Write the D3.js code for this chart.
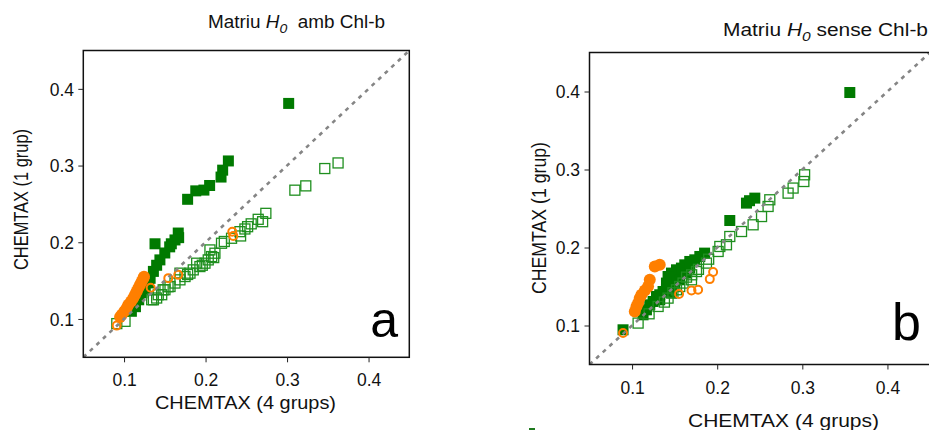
<!DOCTYPE html>
<html><head><meta charset="utf-8">
<script src="https://cdn.jsdelivr.net/npm/d3@7/dist/d3.min.js"></script>
<style>
html,body{margin:0;padding:0;background:#fff;}
svg{display:block;font-family:"Liberation Sans",Arial,sans-serif;}
</style></head>
<body>
<svg id="chart" width="929" height="430"></svg>
<script>
// ---------- data ----------
const tickValues = [0.1, 0.2, 0.3, 0.4];
const axisDomain = [0.05, 0.45];
const xTitle = "CHEMTAX (4 grups)";
const yTitle = "CHEMTAX (1 grup)";
const panelLetters = ["a", "b"];

// Panel a : "Matriu H0 amb Chl-b"
const aFilledSquares = [[0.302,0.381],[0.228,0.306],[0.221,0.294],[0.219,0.285],[0.205,0.274],[0.198,0.268],[0.188,0.267],[0.178,0.256],[0.1665,0.212],[0.167,0.206],[0.158,0.198],[0.138,0.198],[0.1625,0.203],[0.156,0.194],[0.150,0.186],[0.144,0.177],[0.140,0.170],[0.136,0.162],[0.132,0.153],[0.130,0.147],[0.126,0.140],[0.122,0.134],[0.118,0.125],[0.114,0.116],[0.109,0.110]];
const aOpenSquares = [[0.3626,0.3034],[0.3463,0.2961],[0.3230,0.2735],[0.3096,0.2679],[0.2740,0.2377],[0.2700,0.2268],[0.2646,0.2299],[0.2516,0.2203],[0.2483,0.2173],[0.2422,0.2138],[0.2430,0.2082],[0.2319,0.2052],[0.2196,0.1987],[0.2115,0.1857],[0.2075,0.1813],[0.2033,0.1770],[0.1993,0.1727],[0.1931,0.1683],[0.1849,0.1640],[0.1809,0.1597],[0.1748,0.1553],[0.1686,0.1510],[0.1625,0.1468],[0.1564,0.1423],[0.1502,0.1381],[0.1462,0.1316],[0.1400,0.1273],[0.1339,0.1251],[0.2054,0.1900],[0.1891,0.1727],[0.1686,0.1597],[0.1360,0.1250],[0.1420,0.1316],[0.1480,0.1380],[0.1540,0.1420],[0.0911,0.0939],[0.1012,0.0969],[0.2100,0.1800],[0.1960,0.1700],[0.1780,0.1580],[0.2230,0.2010],[0.2560,0.2240]];
const aFilledCircles = [[0.1245,0.1550],[0.1237,0.1532],[0.1217,0.1489],[0.1196,0.1445],[0.1176,0.1403],[0.1155,0.1358],[0.1135,0.1316],[0.1114,0.1273],[0.1086,0.1229],[0.1053,0.1186],[0.1033,0.1143],[0.1004,0.1099],[0.0972,0.1056],[0.0951,0.1026]];
const aOpenCircles = [[0.0910,0.0913],[0.1327,0.1406],[0.1543,0.1532],[0.1665,0.1575],[0.2328,0.2138],[0.2340,0.2082]];

// Panel b : "Matriu H0 sense Chl-b"
const bFilledSquares = [[0.3558,0.3987],[0.2442,0.2633],[0.2344,0.2569],[0.2380,0.2600],[0.2148,0.2346],[0.1852,0.1928],[0.1796,0.1885],[0.1737,0.1842],[0.1678,0.1821],[0.1619,0.1778],[0.1580,0.1736],[0.1522,0.1714],[0.1463,0.1672],[0.1423,0.1628],[0.1639,0.1672],[0.1561,0.1586],[0.1502,0.1544],[0.1443,0.1500],[0.1404,0.1458],[0.1364,0.1436],[0.1325,0.1394],[0.1287,0.1372],[0.1247,0.1308],[0.1208,0.1265],[0.1169,0.1201],[0.1129,0.1137],[0.1325,0.1329],[0.1404,0.1544],[0.1463,0.1415],[0.1678,0.1736],[0.0894,0.0945]];
const bOpenSquares = [[0.3027,0.2932],[0.3018,0.2846],[0.2892,0.2762],[0.2833,0.2697],[0.2618,0.2612],[0.2598,0.2526],[0.2521,0.2397],[0.2422,0.2291],[0.2286,0.2205],[0.2148,0.2141],[0.2109,0.2035],[0.2031,0.2013],[0.2011,0.1949],[0.1874,0.1800],[0.1757,0.1692],[0.1698,0.1586],[0.1599,0.1544],[0.1522,0.1458],[0.1423,0.1351],[0.1306,0.1244],[0.1071,0.1031],[0.1640,0.1620],[0.1560,0.1500],[0.1480,0.1420],[0.1380,0.1300],[0.1200,0.1150],[0.1900,0.1850],[0.1780,0.1720],[0.1700,0.1650]];
const bFilledCircles = [[0.1325,0.1778],[0.1267,0.1756],[0.1208,0.1586],[0.1188,0.1500],[0.1150,0.1450],[0.1110,0.1394],[0.1090,0.1351],[0.1071,0.1287],[0.1052,0.1244],[0.1032,0.1180]];
const bOpenCircles = [[0.0894,0.0903],[0.1552,0.1403],[0.1698,0.1449],[0.1776,0.1458],[0.1913,0.1595],[0.1952,0.1685]];

// ---------- layout ----------
const GREEN = "#007a00", OPEN_GREEN = "#1f8f1f", ORANGE = "#ff7f00";
const panels = [
  { letter: panelLetters[0], title: ["Matriu ", "H", "0", "  amb Chl-b"],
    xr: [83.3, 409.3], yr: [357.3, 50.5],
    data: [aFilledSquares, aOpenSquares, aFilledCircles, aOpenCircles],
    titleX: 208, titleY: 28, titleLen: 177,
    xTickY: 386, xTitleX: 245.5, xTitleY: 409, xTitleLen: 181,
    yLabelEnd: 74, yTitleX: 28, yTitleY: 199.5, yTitleLen: 141,
    letterX: 398, letterY: 337, letterSize: 50 },
  { letter: panelLetters[1], title: ["Matriu ", "H", "0", " sense Chl-b"],
    xr: [589.5, 930], yr: [364.5, 52.5],
    data: [bFilledSquares, bOpenSquares, bFilledCircles, bOpenCircles],
    titleX: 723, titleY: 36, titleLen: 205,
    xTickY: 393.5, xTitleX: 783.5, xTitleY: 427.3, xTitleLen: 191,
    yLabelEnd: 580, yTitleX: 546, yTitleY: 218, yTitleLen: 152,
    letterX: 921, letterY: 340, letterSize: 52 }
];

const svg = d3.select("#chart");

panels.forEach(p => {
  const x = d3.scaleLinear().domain(axisDomain).range(p.xr);
  const y = d3.scaleLinear().domain(axisDomain).range(p.yr);
  const g = svg.append("g");

  const clipId = "clip-" + p.letter;
  svg.append("clipPath").attr("id", clipId).append("rect")
    .attr("x", p.xr[0]).attr("y", p.yr[1])
    .attr("width", p.xr[1] - p.xr[0]).attr("height", p.yr[0] - p.yr[1]);

  const plot = g.append("g").attr("clip-path", `url(#${clipId})`);
  const [fSq, oSq, fCi, oCi] = p.data;

  plot.selectAll(".fsq").data(fSq).join("rect")
    .attr("x", d => x(d[0]) - 5.5).attr("y", d => y(d[1]) - 5.5)
    .attr("width", 11).attr("height", 11).attr("fill", GREEN);
  plot.selectAll(".osq").data(oSq).join("rect")
    .attr("x", d => x(d[0]) - 5).attr("y", d => y(d[1]) - 5)
    .attr("width", 10).attr("height", 10).attr("fill", "none")
    .attr("stroke", OPEN_GREEN).attr("stroke-width", 1.3);
  plot.selectAll(".fci").data(fCi).join("circle")
    .attr("cx", d => x(d[0])).attr("cy", d => y(d[1])).attr("r", 6)
    .attr("fill", ORANGE);
  plot.selectAll(".oci").data(oCi).join("circle")
    .attr("cx", d => x(d[0])).attr("cy", d => y(d[1])).attr("r", 4)
    .attr("fill", "none").attr("stroke", ORANGE).attr("stroke-width", 2);

  // 1:1 line
  plot.append("line")
    .attr("x1", x(axisDomain[0])).attr("y1", y(axisDomain[0]))
    .attr("x2", x(axisDomain[1])).attr("y2", y(axisDomain[1]))
    .attr("stroke", "#858585").attr("stroke-width", 2.6)
    .attr("stroke-dasharray", "4,5");

  // box
  g.append("rect")
    .attr("x", p.xr[0]).attr("y", p.yr[1])
    .attr("width", p.xr[1] - p.xr[0]).attr("height", p.yr[0] - p.yr[1])
    .attr("fill", "none").attr("stroke", "#111").attr("stroke-width", 1.5);

  // axes
  const fmt = d3.format(".1f");
  const xa = g.append("g").attr("transform", `translate(0,${p.yr[0]})`)
    .call(d3.axisBottom(x).tickValues(tickValues).tickFormat(fmt).tickSize(5).tickPadding(4));
  const ya = g.append("g").attr("transform", `translate(${p.xr[0]},0)`)
    .call(d3.axisLeft(y).tickValues(tickValues).tickFormat(fmt).tickSize(5).tickPadding(4));
  [xa, ya].forEach(a => {
    a.select(".domain").remove();
    a.selectAll(".tick line").attr("stroke", "#222").attr("stroke-width", 1);
    a.selectAll(".tick text").attr("font-size", 17.5).attr("fill", "#111")
      .attr("font-family", "Liberation Sans, Arial, sans-serif");
  });
  xa.selectAll(".tick text").attr("y", null).attr("dy", null)
    .attr("y", p.xTickY - p.yr[0]);
  ya.selectAll(".tick text").attr("x", p.yLabelEnd - p.xr[0]).attr("dy", "0.36em");

  // axis titles
  g.append("text").attr("x", p.xTitleX).attr("y", p.xTitleY)
    .attr("text-anchor", "middle").attr("font-size", 19).attr("fill", "#111")
    .attr("textLength", p.xTitleLen).attr("lengthAdjust", "spacingAndGlyphs")
    .text(xTitle);
  g.append("text")
    .attr("transform", `translate(${p.yTitleX},${p.yTitleY}) rotate(-90)`)
    .attr("text-anchor", "middle").attr("font-size", 19.5).attr("fill", "#111")
    .attr("textLength", p.yTitleLen).attr("lengthAdjust", "spacingAndGlyphs")
    .text(yTitle);

  // panel title
  const t = g.append("text").attr("x", p.titleX).attr("y", p.titleY)
    .attr("font-size", 17.5).attr("fill", "#111")
    .attr("textLength", p.titleLen).attr("lengthAdjust", "spacingAndGlyphs")
    .style("white-space", "pre");
  t.append("tspan").text(p.title[0]);
  t.append("tspan").attr("font-style", "italic").text(p.title[1]);
  t.append("tspan").attr("font-style", "italic").attr("font-size", 13).attr("dy", 5).text(p.title[2]);
  t.append("tspan").attr("dy", -5).text(p.title[3]);

  // panel letter
  g.append("text").attr("x", p.letterX).attr("y", p.letterY)
    .attr("text-anchor", "end").attr("font-size", p.letterSize).attr("fill", "#000")
    .text(p.letter);
});

// small clipped legend glyph visible at the bottom edge
svg.append("rect").attr("x", 529).attr("y", 428).attr("width", 6).attr("height", 3)
  .attr("fill", "#1f7a1f");
</script>
</body></html>
